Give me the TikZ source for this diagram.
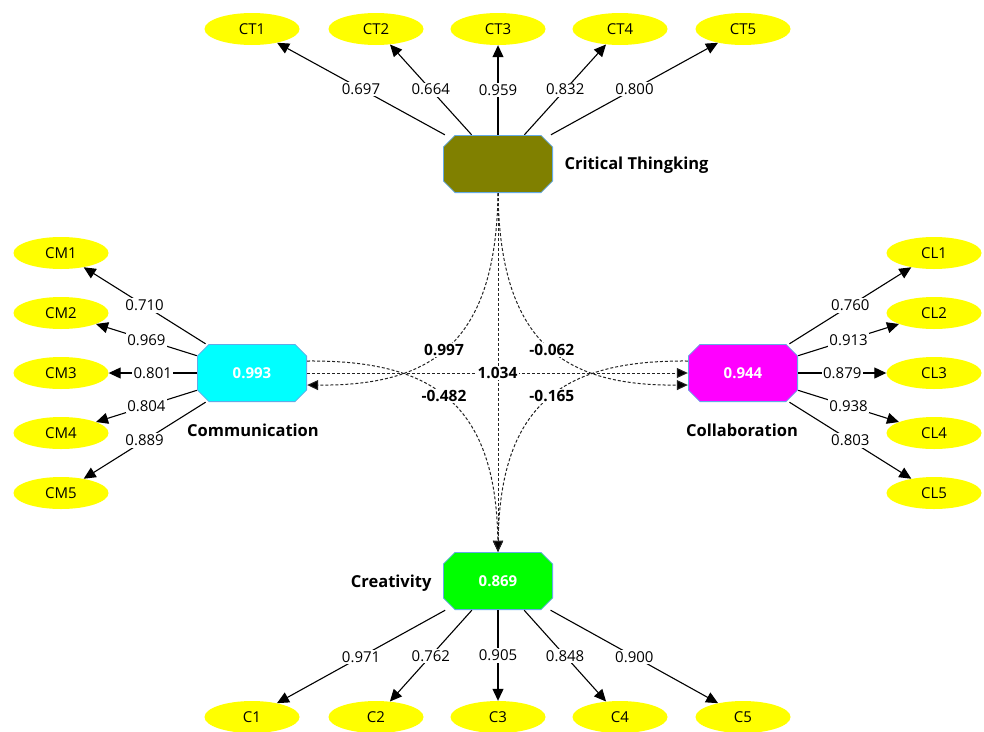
\documentclass[tikz,border=0pt]{standalone}
\usepackage{fontspec}
\setmainfont{Open Sans}
\usetikzlibrary{shapes.geometric,arrows.meta}
\definecolor{lvborder}{RGB}{100,170,230}
\definecolor{ctfill}{RGB}{128,128,0}
\definecolor{commfill}{RGB}{0,255,255}
\definecolor{collfill}{RGB}{255,0,255}
\definecolor{creafill}{RGB}{0,255,0}
\definecolor{indfill}{RGB}{255,255,0}
\definecolor{dashgray}{RGB}{35,35,35}
\tikzset{
    latent/.style={rectangle,minimum width=110pt,minimum height=58pt,inner sep=0pt,text=white,
        font=\fontsize{15}{17}\selectfont\bfseries,
        path picture={
            \draw[draw=lvborder,line width=.8pt,fill=#1]
                ([xshift=12pt,yshift=-.4pt]path picture bounding box.north west) -- ([xshift=-12pt,yshift=-.4pt]path picture bounding box.north east)
                -- ([xshift=-.4pt,yshift=-12pt]path picture bounding box.north east) -- ([xshift=-.4pt,yshift=12pt]path picture bounding box.south east)
                -- ([xshift=-12pt,yshift=.4pt]path picture bounding box.south east) -- ([xshift=12pt,yshift=.4pt]path picture bounding box.south west)
                -- ([xshift=.4pt,yshift=12pt]path picture bounding box.south west) -- ([xshift=.4pt,yshift=-12pt]path picture bounding box.north west) -- cycle;
        }},
    lvname/.style={font=\fontsize{16.5}{18}\selectfont\bfseries},
    indicator/.style={ellipse,fill=indfill,minimum width=95pt,minimum height=32pt,inner sep=0pt,
        font=\fontsize{15}{17}\selectfont},
    loading/.style={draw=black,line width=1.1pt,-{Triangle[length=12pt,width=11pt]}},
    weight/.style={fill=white,inner sep=1.5pt,font=\fontsize{15}{17}\selectfont},
    corr/.style={draw=dashgray,line width=1pt,dash pattern=on 3pt off 2pt,-{Triangle[length=11pt,width=10pt,fill=black]}},
    coef/.style={fill=white,inner sep=1.5pt,font=\fontsize{15.5}{17}\selectfont\bfseries}
}
\begin{document}
\begin{tikzpicture}[x=1pt,y=-1pt]
    \useasboundingbox[fill=white] (0,0) rectangle (984,731);
    % constructs
    \node[latent=ctfill] (ct) at (498,164) {};
    \node[latent=commfill] (comm) at (252,373) {0.993};
    \node[latent=collfill] (coll) at (743,373) {0.944};
    \node[latent=creafill] (crea) at (498,581) {0.869};
    \node[lvname,anchor=west] (ctname) at (561,165) {Critical Thingking};
    \node[lvname] (commname) at (253,430) {Communication};
    \node[lvname] (collname) at (742,430) {Collaboration};
    \node[lvname,anchor=east] (creaname) at (435,583) {Creativity};
    % indicators
    \foreach \i/\x in {1/252,2/376,3/498,4/620,5/743}
    {
        \node[indicator] (ct\i) at (\x,29) {CT\i};
        \node[indicator] (c\i) at (\x,717) {C\i};
    }
    \foreach \i/\y in {1/253,2/313,3/373,4/433,5/493}
    {
        \node[indicator] (cm\i) at (61,\y) {CM\i};
        \node[indicator] (cl\i) at (934,\y) {CL\i};
    }
    % outer loadings
    \foreach \i/\v in {1/0.697,2/0.664,3/0.959,4/0.832,5/0.800}
    {
        \draw[loading] (ct) -- node[weight] {\v} (ct\i);
    }
    \foreach \i/\v in {1/0.710,2/0.969,3/0.801,4/0.804,5/0.889}
    {
        \draw[loading] (comm) -- node[weight] {\v} (cm\i);
    }
    \foreach \i/\v in {1/0.760,2/0.913,3/0.879,4/0.938,5/0.803}
    {
        \draw[loading] (coll) -- node[weight] {\v} (cl\i);
    }
    \foreach \i/\v in {1/0.971,2/0.762,3/0.905,4/0.848,5/0.900}
    {
        \draw[loading] (crea) -- node[weight] {\v} (c\i);
    }
    % inner model
    \draw[corr] (ct.south) -- (crea.north);
    \draw[corr] (comm.east) -- node[coef] {1.034} (coll.west);
    \draw[corr] (ct.south) .. controls (496,345) and (430,386) .. ([yshift=-12pt]comm.east) node[coef,pos=.52] {0.997};
    \draw[corr] (ct.south) .. controls (500,345) and (566,386) .. ([yshift=-12pt]coll.west) node[coef,pos=.52] {-0.062};
    \draw[corr] ([yshift=12pt]comm.east) .. controls (430,360) and (496,401) .. (crea.north) node[coef,pos=.48] {-0.482};
    \draw[corr] ([yshift=12pt]coll.west) .. controls (566,360) and (500,401) .. (crea.north) node[coef,pos=.48] {-0.165};
\end{tikzpicture}
\end{document}
